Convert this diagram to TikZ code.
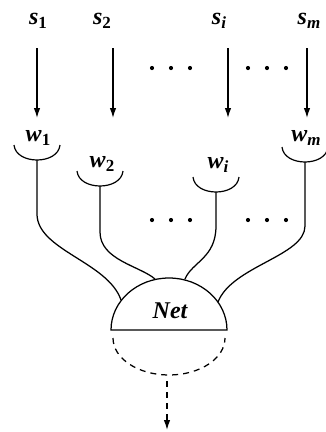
\documentclass[tikz,border=0pt]{standalone}
\usepackage{fontspec}
\setmainfont{Liberation Serif}
\usetikzlibrary{arrows.meta}
% weight symbol with a lowered index
\newcommand\idx[2]{#1\raisebox{-4pt}{\fontsize{17}{17}\selectfont #2}}
\begin{document}
\begin{tikzpicture}[x=1pt, y=-1pt, line width=1.25pt,
  lab/.style={inner sep=0pt, font=\fontsize{24}{26}\selectfont\bfseries\itshape},
  feed/.style={-{Latex[length=10pt,width=6.5pt]}},
  dotmark/.style={fill, circle, inner sep=0pt, minimum size=4.2pt},
  cupline/.style={line width=1.2pt}]
\useasboundingbox (0,0) rectangle (325,432);

% input signals
\node[lab] (s1) at (38,21)  {\idx{s}{\upshape 1}};
\node[lab] (s2) at (102,21) {\idx{s}{\upshape 2}};
\node[lab] (si) at (219,21) {\idx{s}{i}};
\node[lab] (sm) at (309,21) {\idx{s}{m}};

\coordinate (t1) at (37,48);  \coordinate (h1) at (37,118);
\coordinate (t2) at (113,48); \coordinate (h2) at (113,118);
\coordinate (ti) at (228,48); \coordinate (hi) at (228,118);
\coordinate (tm) at (307,48); \coordinate (hm) at (307,118);
\draw[feed] (t1) -- (h1);
\draw[feed] (t2) -- (h2);
\draw[feed] (ti) -- (hi);
\draw[feed] (tm) -- (hm);

% ellipsis marks
\foreach \x/\n in {152/a,171/b,190/c,248/d,267/e,286/f} {
  \node[dotmark] (u\n) at (\x,68) {};
  \node[dotmark] (l\n) at (\x,220) {};
}

% weight receptors
\node[lab] (w1) at (38,138)  {\idx{w}{\upshape 1}};
\node[lab] (w2) at (102,164) {\idx{w}{\upshape 2}};
\node[lab] (wi) at (218,165) {\idx{w}{i}};
\node[lab] (wm) at (306,138) {\idx{w}{m}};

\coordinate (b1) at (37,160);
\coordinate (b2) at (100,186);
\coordinate (bi) at (216,192);
\coordinate (bm) at (305,162);
\foreach \b in {b1,b2,bi,bm}
  \draw[cupline] ([shift={(-23,-15)}]\b) .. controls ([shift={(-21,5)}]\b)
        and ([shift={(21,5)}]\b) .. ([shift={(23,-15)}]\b);

% summing unit
\draw (111,330) arc[start angle=180, end angle=360, x radius=58, y radius=52] -- cycle;
\node[lab] (net) at (170,311) {Net};
\draw[dashed, dash pattern=on 6pt off 5pt] (113,338)
  arc[start angle=180, end angle=0, x radius=56, y radius=37];

\coordinate (n1) at (121,300);
\coordinate (n2) at (155,279);
\coordinate (n3) at (185,279);
\coordinate (n4) at (218,302);

% dendrites into the unit
\draw (b1) -- (37,214) .. controls (37,250) and (108,262) .. (n1);
\draw (b2) -- (100,232) .. controls (100,260) and (140,266) .. (n2);
\draw (bi) -- (216,226) .. controls (216,258) and (192,262) .. (n3);
\draw (bm) -- (305,226) .. controls (305,256) and (232,266) .. (n4);

% output
\coordinate (o1) at (167,381);
\coordinate (o2) at (167,430);
\draw[feed, dashed, dash pattern=on 6pt off 5pt] (o1) -- (o2);
\end{tikzpicture}
\end{document}
